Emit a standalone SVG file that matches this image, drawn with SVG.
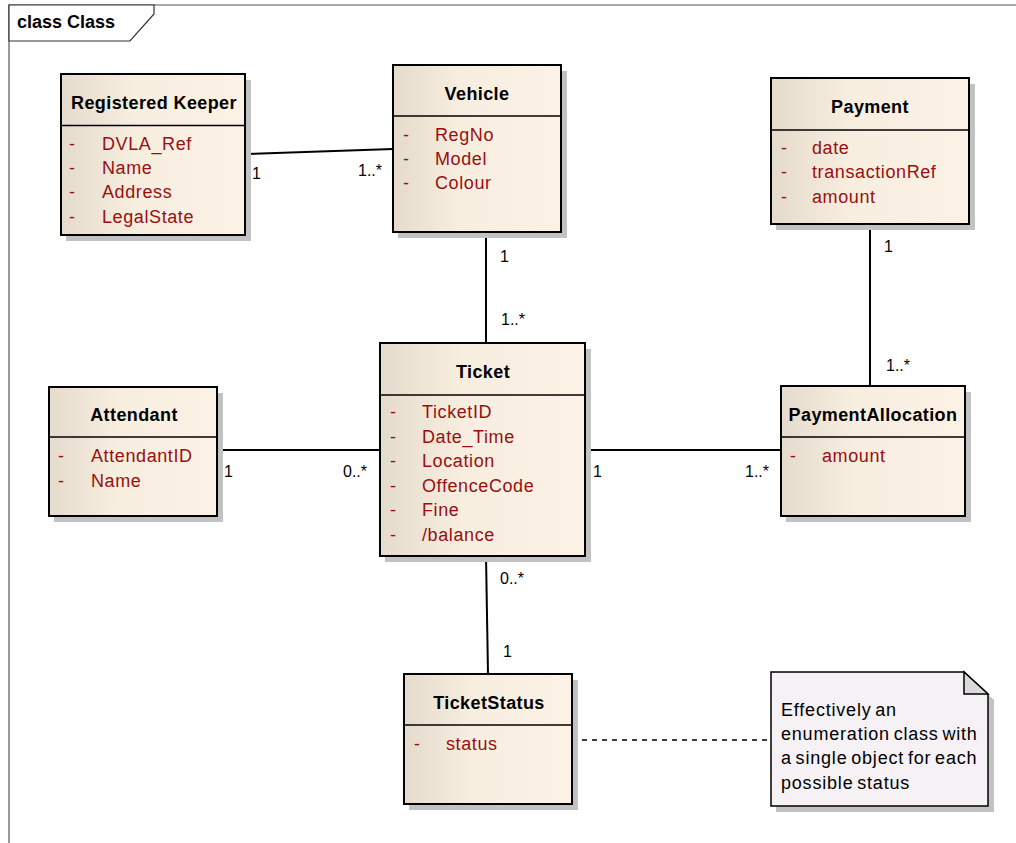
<svg xmlns="http://www.w3.org/2000/svg" width="1016" height="843" viewBox="0 0 1016 843">
  <defs>
    <linearGradient id="classFill" x1="0" y1="0" x2="1" y2="0">
      <stop offset="0" stop-color="#E4DBCC"/>
      <stop offset="0.4" stop-color="#F8EEE0"/>
      <stop offset="1" stop-color="#FBF1E4"/>
    </linearGradient>
    <style>
      .frame { fill: none; stroke: #555; stroke-width: 1.2; }
      .tab { fill: #fff; stroke: #333; stroke-width: 1.2; }
      .frameTitle { font-family: "Liberation Sans", Arial, sans-serif; font-size: 18px; font-weight: bold; fill: #000; }
      .shadow { fill: #C2C2C2; }
      .box { fill: url(#classFill); stroke: #000; stroke-width: 2; }
      .divider { stroke: #000; stroke-width: 1.5; }
      .title { font-family: "Liberation Sans", Arial, sans-serif; font-size: 18px; font-weight: bold; fill: #000; text-anchor: middle; letter-spacing: 0.4px; }
      .attr { font-family: "Liberation Sans", Arial, sans-serif; font-size: 18px; fill: #990F0F; letter-spacing: 0.6px; }
      .conn { stroke: #000; stroke-width: 2; fill: none; }
      .dashed { stroke: #000; stroke-width: 1.5; fill: none; stroke-dasharray: 5 5; }
      .mult { font-family: "Liberation Sans", Arial, sans-serif; font-size: 16px; fill: #000; }
      .note { fill: #F5F1F5; stroke: #000; stroke-width: 1.5; }
      .fold { fill: #DADADA; stroke: #000; stroke-width: 1.5; }
      .noteText { font-family: "Liberation Sans", Arial, sans-serif; font-size: 18px; fill: #000; letter-spacing: 0.8px; word-spacing: -2px; }
    </style>
  </defs>

  <rect width="1016" height="843" fill="#fff"/>

  <!-- diagram frame -->
  <g id="frame">
    <path class="frame" d="M9,843 V5 H1016"/>
    <path class="tab" d="M9,5 H154 V14 L130,41 H9 Z"/>
    <text class="frameTitle" x="17" y="28">class Class</text>
  </g>

  <!-- connectors -->
  <g id="connectors">
    <line class="conn" x1="245" y1="154" x2="393" y2="149"/>
    <line class="conn" x1="486" y1="232" x2="486" y2="343"/>
    <line class="conn" x1="870" y1="224" x2="870" y2="386"/>
    <line class="conn" x1="217" y1="450" x2="380" y2="450"/>
    <line class="conn" x1="585" y1="450" x2="781" y2="450"/>
    <line class="conn" x1="486" y1="556" x2="488" y2="674"/>
    <line class="dashed" x1="572" y1="740" x2="771" y2="740"/>

    <text class="mult" x="252" y="179">1</text>
    <text class="mult" x="358" y="176">1..*</text>
    <text class="mult" x="500" y="262">1</text>
    <text class="mult" x="501" y="325">1..*</text>
    <text class="mult" x="884" y="252">1</text>
    <text class="mult" x="886" y="371">1..*</text>
    <text class="mult" x="224" y="477">1</text>
    <text class="mult" x="343" y="477">0..*</text>
    <text class="mult" x="593" y="477">1</text>
    <text class="mult" x="745" y="477">1..*</text>
    <text class="mult" x="500" y="584">0..*</text>
    <text class="mult" x="503" y="657">1</text>
  </g>

  <!-- Registered Keeper -->
  <g id="registered-keeper">
    <rect class="shadow" x="66" y="80" width="185" height="161"/>
    <rect class="box" x="61" y="74" width="184" height="161"/>
    <line class="divider" x1="61" y1="125.5" x2="245" y2="125.5"/>
    <text class="title" x="154" y="109">Registered Keeper</text>
    <text class="attr" x="69" y="150">-</text><text class="attr" x="102" y="150">DVLA_Ref</text>
    <text class="attr" x="69" y="174">-</text><text class="attr" x="102" y="174">Name</text>
    <text class="attr" x="69" y="198">-</text><text class="attr" x="102" y="198">Address</text>
    <text class="attr" x="69" y="223">-</text><text class="attr" x="102" y="223">LegalState</text>
  </g>

  <!-- Vehicle -->
  <g id="vehicle">
    <rect class="shadow" x="398" y="71" width="169" height="167"/>
    <rect class="box" x="393" y="65" width="168" height="167"/>
    <line class="divider" x1="393" y1="116" x2="561" y2="116"/>
    <text class="title" x="477" y="100">Vehicle</text>
    <text class="attr" x="403" y="141">-</text><text class="attr" x="435" y="141">RegNo</text>
    <text class="attr" x="403" y="165">-</text><text class="attr" x="435" y="165">Model</text>
    <text class="attr" x="403" y="189">-</text><text class="attr" x="435" y="189">Colour</text>
  </g>

  <!-- Payment -->
  <g id="payment">
    <rect class="shadow" x="776" y="84" width="199" height="146"/>
    <rect class="box" x="771" y="78" width="198" height="146"/>
    <line class="divider" x1="771" y1="130" x2="969" y2="130"/>
    <text class="title" x="870" y="113">Payment</text>
    <text class="attr" x="781" y="154">-</text><text class="attr" x="812" y="154">date</text>
    <text class="attr" x="781" y="178">-</text><text class="attr" x="812" y="178">transactionRef</text>
    <text class="attr" x="781" y="203">-</text><text class="attr" x="812" y="203">amount</text>
  </g>

  <!-- Attendant -->
  <g id="attendant">
    <rect class="shadow" x="54" y="393" width="169" height="129"/>
    <rect class="box" x="49" y="387" width="168" height="129"/>
    <line class="divider" x1="49" y1="437" x2="217" y2="437"/>
    <text class="title" x="134" y="421">Attendant</text>
    <text class="attr" x="58" y="462">-</text><text class="attr" x="91" y="462">AttendantID</text>
    <text class="attr" x="58" y="487">-</text><text class="attr" x="91" y="487">Name</text>
  </g>

  <!-- Ticket -->
  <g id="ticket">
    <rect class="shadow" x="385" y="349" width="206" height="213"/>
    <rect class="box" x="380" y="343" width="205" height="213"/>
    <line class="divider" x1="380" y1="395" x2="585" y2="395"/>
    <text class="title" x="483" y="378">Ticket</text>
    <text class="attr" x="390" y="418">-</text><text class="attr" x="422" y="418">TicketID</text>
    <text class="attr" x="390" y="443">-</text><text class="attr" x="422" y="443">Date_Time</text>
    <text class="attr" x="390" y="467">-</text><text class="attr" x="422" y="467">Location</text>
    <text class="attr" x="390" y="492">-</text><text class="attr" x="422" y="492">OffenceCode</text>
    <text class="attr" x="390" y="516">-</text><text class="attr" x="422" y="516">Fine</text>
    <text class="attr" x="390" y="541">-</text><text class="attr" x="422" y="541">/balance</text>
  </g>

  <!-- PaymentAllocation -->
  <g id="payment-allocation">
    <rect class="shadow" x="786" y="392" width="185" height="130"/>
    <rect class="box" x="781" y="386" width="184" height="130"/>
    <line class="divider" x1="781" y1="437" x2="965" y2="437"/>
    <text class="title" x="873" y="421">PaymentAllocation</text>
    <text class="attr" x="790" y="462">-</text><text class="attr" x="822" y="462">amount</text>
  </g>

  <!-- TicketStatus -->
  <g id="ticket-status">
    <rect class="shadow" x="409" y="680" width="169" height="130"/>
    <rect class="box" x="404" y="674" width="168" height="130"/>
    <line class="divider" x1="404" y1="725" x2="572" y2="725"/>
    <text class="title" x="489" y="709">TicketStatus</text>
    <text class="attr" x="414" y="750">-</text><text class="attr" x="446" y="750">status</text>
  </g>

  <!-- note -->
  <g id="note">
    <path class="shadow" d="M776,678 H969 L994,700 V812 H776 Z"/>
    <path class="note" d="M771,672 H964 L988,694 V806 H771 Z"/>
    <path class="fold" d="M964,672 V694 H988 Z"/>
    <text class="noteText" x="781" y="716">Effectively an</text>
    <text class="noteText" x="781" y="740">enumeration class with</text>
    <text class="noteText" x="781" y="764">a single object for each</text>
    <text class="noteText" x="781" y="789">possible status</text>
  </g>
</svg>
